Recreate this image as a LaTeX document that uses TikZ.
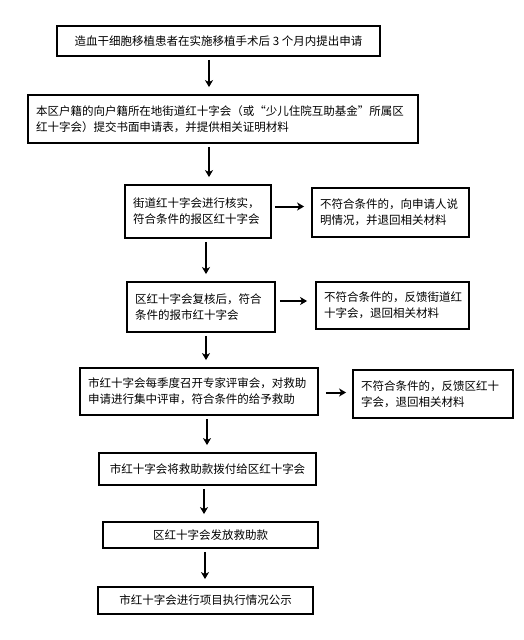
\documentclass[tikz,border=0pt]{standalone}
\usepackage{fontspec}
\setmainfont{Noto Sans CJK SC}
\usetikzlibrary{arrows.meta}

\tikzset{
  box/.style={draw, line width=1.8pt, inner xsep=8pt, inner ysep=0pt,
    font=\fontsize{11.5}{16}\selectfont},
  lbox/.style={box, align=left},
  cbox/.style={box, align=center},
  arr/.style={line width=2pt, -{Stealth[length=7pt,width=8pt,inset=2pt]},
    shorten <=3pt, shorten >=7pt}
}

\begin{document}
\begin{tikzpicture}[x=1pt,y=-1pt]
  \useasboundingbox (0,0) rectangle (523,640);
  \fill[white] (0,0) rectangle (523,640);

  %% main column
  \node[cbox, minimum width=323, minimum height=30] (apply) at (218.5,41)
    {造血干细胞移植患者在实施移植手术后 3 个月内提出申请};
  \node[lbox, text width=374, minimum height=48] (submit) at (223,119)
    {本区户籍的向户籍所在地街道红十字会（或“少儿住院互助基金”所属区\\红十字会）提交书面申请表，并提供相关证明材料};
  \node[lbox, text width=130, minimum height=53] (street) at (198,211.5)
    {街道红十字会进行核实，\\符合条件的报区红十字会};
  \node[lbox, text width=132, minimum height=50] (district) at (201,307)
    {区红十字会复核后，符合\\条件的报市红十字会};
  \node[lbox, text width=222, minimum height=47] (city) at (199,391.5)
    {市红十字会每季度召开专家评审会，对救助\\申请进行集中评审，符合条件的给予救助};
  \node[cbox, minimum width=217, minimum height=32] (pay) at (207.5,469)
    {市红十字会将救助款拨付给区红十字会};
  \node[cbox, minimum width=215, minimum height=26] (grant) at (210.5,535)
    {区红十字会发放救助款};
  \node[cbox, minimum width=215, minimum height=27] (publish) at (205.5,600.5)
    {市红十字会进行项目执行情况公示};

  %% rejections
  \node[lbox, text width=141, minimum height=49] (streetno) at (390.5,212.5)
    {不符合条件的，向申请人说\\明情况，并退回相关材料};
  \node[lbox, text width=137, minimum height=47] (districtno) at (392.5,305.5)
    {不符合条件的，反馈街道红\\十字会，退回相关材料};
  \node[lbox, text width=144, minimum height=48] (cityno) at (433,394)
    {不符合条件的，反馈区红十\\字会，退回相关材料};

  %% down arrows
  \coordinate (col) at (207,0);
  \draw[arr] (apply.south -| col) ++(2,0) coordinate (a1) -- (a1 |- submit.north);
  \draw[arr] (submit.south -| col) ++(2,0) coordinate (a2) -- (a2 |- street.north);
  \draw[arr] (street.south -| col) ++(-1,0) coordinate (a3) -- (a3 |- district.north);
  \draw[arr] (district.south -| col) ++(-1,0) coordinate (a4) -- (a4 |- city.north);
  \draw[arr] (city.south -| col) coordinate (a5) -- (a5 |- pay.north);
  \draw[arr] (pay.south -| col) ++(-3,0) coordinate (a6) -- (a6 |- grant.north);
  \draw[arr] (grant.south -| col) ++(-2,0) coordinate (a7) -- (a7 |- publish.north);

  %% side arrows
  \draw[arr] ([yshift=5pt]street.east) -- ([yshift=5pt]street.east -| streetno.west);
  \draw[arr, shorten <=4pt, shorten >=8pt] ([yshift=6pt]district.east) -- ([yshift=6pt]district.east -| districtno.west);
  \draw[arr, shorten <=7pt, shorten >=6pt] ([yshift=-1pt]city.east) -- ([yshift=-1pt]city.east -| cityno.west);

\end{tikzpicture}
\end{document}
